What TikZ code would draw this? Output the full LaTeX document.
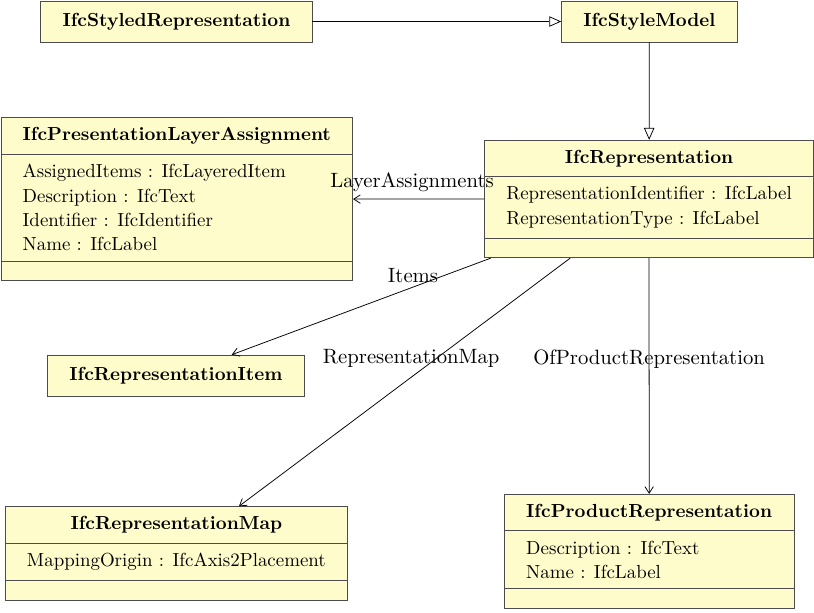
\documentclass[tikz,border=0pt]{standalone}
\usepackage{xcolor}
\usepackage{tikz}
\usetikzlibrary{positioning,shapes.multipart,arrows.meta}

% an (almost) empty operations compartment
\newcommand{\noops}{\rule{0.01pt}{0pt}}

\begin{document}
\begin{tikzpicture}[
  every node/.style={font=\normalsize},
  umlclass/.style={rectangle split,rectangle split parts=3,
                   rectangle split part align={center,left,left},
                   draw=black!70,fill=yellow!20,inner xsep=11.5pt,
                   inner ysep=5pt,align=left,
                   font=\fontsize{10}{12.9}\selectfont},
  umlsimple/.style={rectangle,draw=black!70,fill=yellow!20,minimum height=7.6mm,
                    inner xsep=11.5pt,font=\bfseries},
  inherit/.style={-{Triangle[open,length=6.3pt,width=5.5pt]},black},
  assoc/.style  ={-{Straight Barb[length=3.5pt,width=4.5pt]},black},
  lab/.style    ={font=\fontsize{10.95}{13}\selectfont,inner sep=2pt},
]
\useasboundingbox (0,0) rectangle (15.13,-11.38);

\node[umlsimple] at (3.28, -0.40) (styled)     {IfcStyledRepresentation};
\node[umlsimple] at (12.07,-0.40) (stylemodel) {IfcStyleModel};

\node[umlclass,anchor=north west] at (9.00,-2.60) (rep)
  {\textbf{IfcRepresentation}
   \nodepart{two}RepresentationIdentifier : IfcLabel\\
                 RepresentationType : IfcLabel
   \nodepart{three}\noops};
\node[umlclass,anchor=north west] at (0.01,-2.18) (pla)
  {\textbf{IfcPresentationLayerAssignment}
   \nodepart{two}AssignedItems : IfcLayeredItem\\
                 Description : IfcText\\
                 Identifier : IfcIdentifier\\
                 Name : IfcLabel
   \nodepart{three}\noops};

\node[umlsimple] at (3.27, -6.98) (item) {IfcRepresentationItem};

\node[umlclass,anchor=north west] at (0.09,-9.41) (map)
  {\textbf{IfcRepresentationMap}
   \nodepart{two}MappingOrigin : IfcAxis2Placement
   \nodepart{three}\noops};
\node[umlclass,anchor=north west] at (9.37,-9.18) (prod)
  {\textbf{IfcProductRepresentation}
   \nodepart{two}Description : IfcText\\
                 Name : IfcLabel
   \nodepart{three}\noops};

% generalisations
\draw[inherit] (styled) -- (stylemodel);
\draw[inherit] (stylemodel) -- (rep);

% associations
\draw[assoc] (rep) -- node[lab,above=1.5pt,pos=0.55]{LayerAssignments} (pla);
\draw[assoc] (rep) -- node[lab,above,pos=0.3]{Items} (item);
\draw[assoc] (rep) -- node[lab,above=3pt,pos=0.48]{RepresentationMap} (map);
\draw[assoc] (rep) -- node[lab,pos=0.43]{OfProductRepresentation} (prod);
\end{tikzpicture}
\end{document}
